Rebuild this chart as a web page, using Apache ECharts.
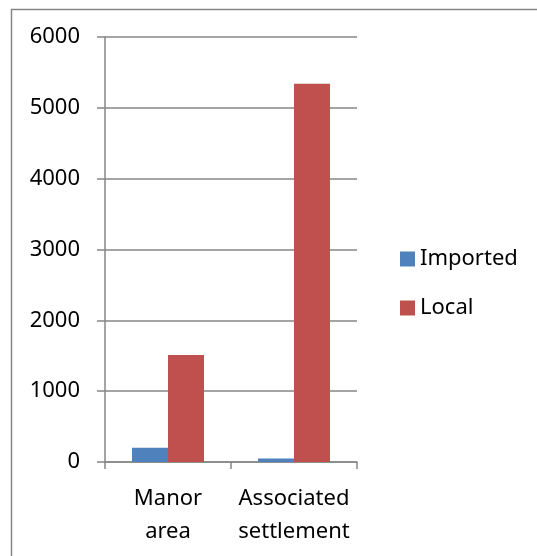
<!DOCTYPE html>
<html>
<head>
<meta charset="utf-8">
<script src="https://cdn.jsdelivr.net/npm/echarts@6/dist/echarts.min.js"></script>
<style>html,body{margin:0;padding:0;background:#fff}#c{width:537px;height:556px}</style>
</head>
<body>
<div id="c"></div>
<script>
const categories = ['Manor\narea', 'Associated\nsettlement'];
const seriesNames = ['Imported', 'Local'];
const importedValues = [200, 50];
const localValues = [1510, 5340];
const yTicks = { min: 0, max: 6000, interval: 1000 };

const chart = echarts.init(document.getElementById('c'), null, { renderer: 'canvas' });
const font = '"Noto Sans", "Open Sans", sans-serif';
const gray = '#868686';
chart.setOption({
  animation: false,
  backgroundColor: '#ffffff',
  graphic: [{
    type: 'rect', left: 9, top: 7, shape: { width: 600, height: 600 },
    style: { fill: 'none', stroke: gray, lineWidth: 1.5 }, silent: true
  }],
  grid: { left: 105, right: 180, top: 37, bottom: 94, containLabel: false },
  legend: {
    orient: 'vertical', left: 400, top: 248, padding: 0,
    itemWidth: 15, itemHeight: 15, itemGap: 27,
    icon: 'rect',
    textStyle: { fontFamily: font, fontSize: 22, color: '#000', lineHeight: 22, padding: [0, 0, 0, 0] },
    data: seriesNames
  },
  xAxis: {
    type: 'category', data: categories,
    axisLine: { lineStyle: { color: gray, width: 1.5 } },
    axisTick: { show: true, length: 7, lineStyle: { color: gray, width: 1.5 } },
    axisLabel: { interval: 0, hideOverlap: false, fontFamily: font, fontSize: 22, color: '#000', lineHeight: 33, margin: 20 }
  },
  yAxis: {
    type: 'value', min: yTicks.min, max: yTicks.max, interval: yTicks.interval,
    axisLine: { show: true, lineStyle: { color: gray, width: 1.5 } },
    axisTick: { show: true, length: 8, lineStyle: { color: gray, width: 1.5 } },
    splitLine: { show: true, lineStyle: { color: gray, width: 1.5 } },
    axisLabel: { fontFamily: font, fontSize: 22, color: '#000', margin: 25, formatter: v => String(v) }
  },
  series: [
    { name: seriesNames[0], type: 'bar', data: importedValues, barWidth: 36, barGap: '0%', itemStyle: { color: '#4F81BD' } },
    { name: seriesNames[1], type: 'bar', data: localValues, barWidth: 36, barGap: '0%', itemStyle: { color: '#C0504D' } }
  ]
});
</script>
</body>
</html>
